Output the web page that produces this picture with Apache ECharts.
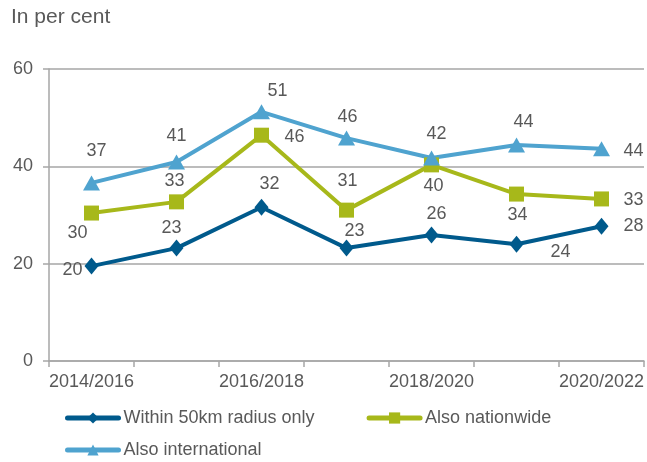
<!DOCTYPE html>
<html>
<head>
<meta charset="utf-8">
<script src="https://cdn.jsdelivr.net/npm/echarts@6/dist/echarts.min.js"></script>
<style>
  html, body { margin: 0; padding: 0; background: #fff; }
  #chart { width: 647px; height: 462px; }
</style>
</head>
<body>
<div id="chart"></div>
<script>
// Survey periods
const periods = ['2014/2016', '2015/2017', '2016/2018', '2017/2019', '2018/2020', '2019/2021', '2020/2022'];

// Share of firms by reach, in per cent
const within50km = [19.5, 23.2, 31.6, 23.2, 25.9, 24.0, 27.7];
const nationwide = [30.4, 32.7, 46.4, 31.0, 40.3, 34.3, 33.3];
const international = [36.6, 40.9, 51.2, 45.8, 41.7, 44.4, 43.6];

// Y axis ticks
const yTicks = [0, 20, 40, 60];

const seriesNames = ['Within 50km radius only', 'Also nationwide', 'Also international'];

// Value-label placement relative to each point (dx, dy in px)
const labelShift = [
  [[-19, 4], [-5, -20], [8, -23], [8, -17], [5, -21], [44, 8], [32, 0]],
  [[-14, 20], [-2, -21], [33, 2], [1, -29], [2, 21], [1, 21], [32, 1]],
  [[5, -32], [0, -26], [16, -21], [1, -21], [5, -24], [7, -23], [32, 2]]
];

const colors = ['#005A8C', '#A7B81A', '#4FA3CF'];
const symbols = ['diamond', 'rect', 'triangle'];
const symbolSizes = [[14, 17], [15, 15], [17, 15]];
const textColor = '#595959';
const axisColor = '#A6A6A6';
const font = 'Liberation Sans, Arial, sans-serif';

function makeSeries(idx, values) {
  return {
    name: seriesNames[idx],
    type: 'line',
    data: values.map((v, i) => ({
      value: v,
      label: { offset: labelShift[idx][i] }
    })),
    symbol: symbols[idx],
    symbolSize: symbolSizes[idx],
    showAllSymbol: true,
    lineStyle: { color: colors[idx], width: 4 },
    itemStyle: { color: colors[idx] },
    label: {
      show: true,
      position: 'inside',
      formatter: p => Math.round(p.value),
      color: textColor,
      fontSize: 18,
      fontFamily: font
    },
    emphasis: { disabled: true },
    animation: false
  };
}

const legendBase = {
  left: 65,
  padding: 0,
  itemWidth: 51,
  itemHeight: 14,
  itemGap: 52,
  lineStyle: { width: 5, cap: 'round' },
  textStyle: { color: textColor, fontSize: 18, fontFamily: font },
  selectedMode: false
};

const chart = echarts.init(document.getElementById('chart'), null, { renderer: 'canvas' });
chart.setOption({
  backgroundColor: '#fff',
  textStyle: { fontFamily: font },
  title: {
    text: 'In per cent',
    left: 6,
    top: 2,
    textStyle: { color: textColor, fontSize: 21, fontWeight: 'normal', fontFamily: font }
  },
  grid: { left: 49, right: 2, top: 69, bottom: 101, containLabel: false },
  legend: [
    Object.assign({}, legendBase, { data: [seriesNames[0], seriesNames[1]], top: 409 }),
    Object.assign({}, legendBase, { data: [seriesNames[2]], top: 441 })
  ],
  xAxis: {
    type: 'category',
    data: periods,
    boundaryGap: true,
    axisLine: { lineStyle: { color: axisColor, width: 1.5 } },
    axisTick: { show: true, interval: 0, length: 6, lineStyle: { color: axisColor, width: 1.5 } },
    axisLabel: { interval: 1, color: textColor, fontSize: 18, margin: 12, fontFamily: font }
  },
  yAxis: {
    type: 'value',
    min: yTicks[0],
    max: yTicks[yTicks.length - 1],
    interval: yTicks[1] - yTicks[0],
    axisLine: { show: true, lineStyle: { color: axisColor, width: 1.5 } },
    axisTick: { show: true, length: 6, lineStyle: { color: axisColor, width: 1.5 } },
    axisLabel: { color: textColor, fontSize: 18, margin: 16, fontFamily: font },
    splitLine: { show: true, lineStyle: { color: axisColor, width: 1.5 } }
  },
  series: [
    makeSeries(0, within50km),
    makeSeries(1, nationwide),
    makeSeries(2, international)
  ]
});
</script>
</body>
</html>
